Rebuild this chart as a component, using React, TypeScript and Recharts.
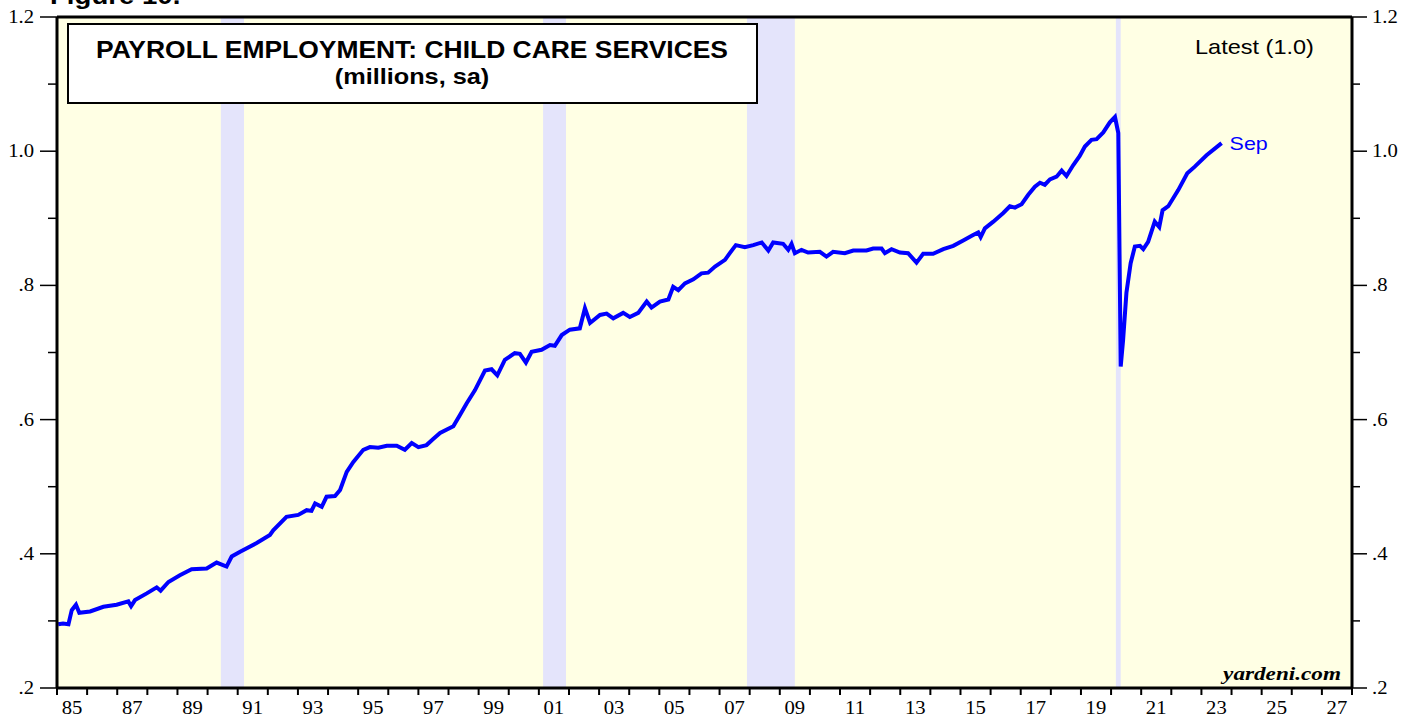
import React from "react";
import {
  ComposedChart,
  Line,
  XAxis,
  YAxis,
  ReferenceArea,
  ReferenceLine,
  LabelList,
} from "recharts";

// decimal year of each reading
const dates = [
  1985.04, 1985.2, 1985.38, 1985.49, 1985.63, 1985.74, 1986.1, 1986.54, 1986.98, 1987.37,
  1987.46, 1987.59, 1987.98, 1988.31, 1988.44, 1988.7, 1989.08, 1989.47, 1989.97, 1990.3,
  1990.63, 1990.8, 1991.08, 1991.63, 1992.07, 1992.18, 1992.62, 1993.01, 1993.29, 1993.45,
  1993.57, 1993.79, 1993.95, 1994.23, 1994.4, 1994.62, 1994.84, 1995.17, 1995.39, 1995.67,
  1995.95, 1996.28, 1996.55, 1996.78, 1997.0, 1997.27, 1997.49, 1997.72, 1998.16, 1998.38,
  1998.6, 1998.88, 1999.21, 1999.43, 1999.62, 1999.87, 2000.2, 2000.37, 2000.57, 2000.76,
  2001.09, 2001.37, 2001.53, 2001.76, 2002.03, 2002.36, 2002.53, 2002.7, 2003.03, 2003.25,
  2003.47, 2003.8, 2004.02, 2004.3, 2004.58, 2004.74, 2005.02, 2005.3, 2005.46, 2005.63,
  2005.85, 2006.13, 2006.4, 2006.62, 2006.85, 2007.18, 2007.34, 2007.54, 2007.84, 2008.12,
  2008.4, 2008.62, 2008.78, 2009.11, 2009.28, 2009.39, 2009.5, 2009.72, 2009.94, 2010.33,
  2010.55, 2010.77, 2011.16, 2011.44, 2011.88, 2012.1, 2012.38, 2012.49, 2012.71, 2012.99,
  2013.26, 2013.54, 2013.76, 2014.09, 2014.43, 2014.76, 2015.09, 2015.42, 2015.59, 2015.67,
  2015.81, 2016.09, 2016.42, 2016.64, 2016.81, 2017.03, 2017.25, 2017.47, 2017.64, 2017.8,
  2017.97, 2018.19, 2018.36, 2018.52, 2018.74, 2018.96, 2019.13, 2019.35, 2019.52, 2019.74,
  2019.96, 2020.13, 2020.24, 2020.32, 2020.4, 2020.51, 2020.65, 2020.79, 2020.96, 2021.07,
  2021.23, 2021.45, 2021.6, 2021.71, 2021.9, 2022.23, 2022.53, 2022.78, 2023.17, 2023.67,
];

// payroll employment, child care services (millions, sa)
const employment = [
  0.295, 0.296, 0.295, 0.316, 0.324, 0.312, 0.314, 0.321, 0.324, 0.329,
  0.322, 0.331, 0.341, 0.35, 0.345, 0.358, 0.368, 0.377, 0.378, 0.387,
  0.381, 0.396, 0.403, 0.416, 0.428, 0.435, 0.455, 0.458, 0.465, 0.464,
  0.475, 0.47, 0.485, 0.486, 0.495, 0.522, 0.537, 0.555, 0.559, 0.558,
  0.561, 0.561, 0.555, 0.565, 0.559, 0.562, 0.571, 0.58, 0.59, 0.607,
  0.624, 0.644, 0.673, 0.675, 0.666, 0.689, 0.699, 0.698, 0.685, 0.701,
  0.704, 0.711, 0.71, 0.726, 0.734, 0.736, 0.766, 0.744, 0.756, 0.758,
  0.751, 0.759, 0.753, 0.759, 0.776, 0.767, 0.776, 0.779, 0.798, 0.793,
  0.803, 0.809, 0.818, 0.819, 0.828, 0.838, 0.848, 0.86, 0.857, 0.86,
  0.864, 0.852, 0.864, 0.862, 0.853, 0.862, 0.848, 0.853, 0.849, 0.85,
  0.843, 0.85, 0.848, 0.852, 0.852, 0.855, 0.855, 0.848, 0.854, 0.849,
  0.848, 0.834, 0.847, 0.847, 0.854, 0.859, 0.867, 0.875, 0.879, 0.872,
  0.885, 0.895, 0.908, 0.918, 0.916, 0.921, 0.935, 0.947, 0.953, 0.95,
  0.958, 0.962, 0.971, 0.963, 0.979, 0.993, 1.007, 1.017, 1.018, 1.028,
  1.043, 1.051, 1.027, 0.679, 0.719, 0.789, 0.833, 0.858, 0.859, 0.854,
  0.865, 0.895, 0.887, 0.912, 0.918, 0.942, 0.967, 0.977, 0.994, 1.012,
];

// recession bands [start, end]
const recessions = [
  [1990.44, 1991.21],
  [2001.14, 2001.9],
  [2007.91, 2009.5],
  [2020.16, 2020.32],
];

const yearTicks = Array.from({ length: 44 }, (_, i) => 1985 + i);
const valueTicks = [0.2, 0.3, 0.4, 0.5, 0.6, 0.7, 0.8, 0.9, 1.0, 1.1, 1.2];

const data = dates.map((t, i) => ({ t, v: employment[i] }));
const lastIdx = data.length - 1;

const SERIF = "'Liberation Serif', 'Times New Roman', serif";
const SANS = "'Liberation Sans', Arial, sans-serif";

const fmt = (v: number) => {
  const s = v.toFixed(1);
  return s.startsWith("0") ? s.slice(1) : s;
};
const isMajor = (v: number) => Math.round(v * 10) % 2 === 0;

function LeftTick({ x, y, payload }: any) {
  const v = payload.value;
  const major = isMajor(v);
  return (
    <g>
      <line x1={x - (major ? 17 : 9)} x2={x} y1={y} y2={y} stroke="#000" strokeWidth={1.5} />
      {major && (
        <text
          transform={`translate(${x - 23},${y + 6}) scale(1.15,1)`}
          textAnchor="end"
          fontFamily={SERIF}
          fontSize={18}
          fill="#000"
        >
          {fmt(v)}
        </text>
      )}
    </g>
  );
}

function RightTick({ x, y, payload }: any) {
  const v = payload.value;
  const major = isMajor(v);
  return (
    <g>
      <line x1={x} x2={x + (major ? 15 : 8)} y1={y} y2={y} stroke="#000" strokeWidth={1.5} />
      {major && (
        <text
          transform={`translate(${x + 20},${y + 6}) scale(1.15,1)`}
          textAnchor="start"
          fontFamily={SERIF}
          fontSize={18}
          fill="#000"
        >
          {fmt(v)}
        </text>
      )}
    </g>
  );
}

function YearTick({ x, y, payload }: any) {
  const yr = payload.value;
  const label = yr % 2 === 1 && yr < 2028;
  return (
    <g>
      <line x1={x} x2={x} y1={y} y2={y + 7} stroke="#000" strokeWidth={2} />
      {label && (
        <text
          transform={`translate(${x + 15},${y + 26}) scale(1.15,1)`}
          textAnchor="middle"
          fontFamily={SERIF}
          fontSize={18}
          fill="#000"
        >
          {String(yr).slice(2)}
        </text>
      )}
    </g>
  );
}

function SepLabel(p: any) {
  if (p.index !== lastIdx) return null;
  return (
    <text
      transform={`translate(${p.x + 8},${p.y + 7}) scale(1.13,1)`}
      fontFamily={SANS}
      fontSize={19}
      fill="#0000ff"
    >
      Sep
    </text>
  );
}

export default function App() {
  return (
    <div style={{ position: "absolute", left: 0, top: 0, width: 1417, height: 719, background: "#fff" }}>
      <ComposedChart
        width={1417}
        height={719}
        data={data}
        margin={{ top: 17, right: 0, bottom: 0, left: 0 }}
      >
        <XAxis
          type="number"
          dataKey="t"
          domain={[1985, 2028]}
          ticks={yearTicks}
          interval={0}
          height={31}
          tickSize={0}
          tickMargin={0}
          tick={<YearTick />}
          axisLine={{ stroke: "#000", strokeWidth: 3 }}
          allowDataOverflow
        />
        <YAxis
          yAxisId="left"
          orientation="left"
          domain={[0.2, 1.2]}
          ticks={valueTicks}
          interval={0}
          width={57}
          tickSize={0}
          tickMargin={0}
          tick={<LeftTick />}
          axisLine={{ stroke: "#000", strokeWidth: 3 }}
          allowDataOverflow
        />
        <YAxis
          yAxisId="right"
          orientation="right"
          domain={[0.2, 1.2]}
          ticks={valueTicks}
          interval={0}
          width={65}
          tickSize={0}
          tickMargin={0}
          tick={<RightTick />}
          axisLine={{ stroke: "#000", strokeWidth: 3 }}
          allowDataOverflow
        />
        <ReferenceArea
          yAxisId="left"
          x1={1985}
          x2={2028}
          y1={0.2}
          y2={1.2}
          fill="#ffffe4"
          fillOpacity={1}
          stroke="none"
        />
        {recessions.map(([a, b], i) => (
          <ReferenceArea
            key={i}
            yAxisId="left"
            x1={a}
            x2={b}
            y1={0.2}
            y2={1.2}
            fill="#e4e4fb"
            fillOpacity={1}
            stroke="none"
          />
        ))}
        <ReferenceLine yAxisId="left" y={1.2} stroke="#000" strokeWidth={3} />
        <Line
          yAxisId="left"
          type="linear"
          dataKey="v"
          stroke="#0000ff"
          strokeWidth={4}
          dot={false}
          isAnimationActive={false}
        >
          <LabelList dataKey="v" content={<SepLabel />} />
        </Line>
      </ComposedChart>
      <svg
        width={1417}
        height={719}
        style={{ position: "absolute", left: 0, top: 0, pointerEvents: "none" }}
      >
        <text
          transform="translate(50,4) scale(1.15,1)"
          fontFamily={SANS}
          fontWeight="bold"
          fontSize={24}
          fill="#000"
        >
          Figure 10.
        </text>
        <rect x={68} y={24} width={689} height={79} fill="#fff" stroke="#000" strokeWidth={2} />
        <text
          transform="translate(412,58) scale(1.15,1)"
          textAnchor="middle"
          fontFamily={SANS}
          fontWeight="bold"
          fontSize={23}
          fill="#000"
        >
          PAYROLL EMPLOYMENT: CHILD CARE SERVICES
        </text>
        <text
          transform="translate(412,84) scale(1.15,1)"
          textAnchor="middle"
          fontFamily={SANS}
          fontWeight="bold"
          fontSize={22}
          fill="#000"
        >
          (millions, sa)
        </text>
        <text
          transform="translate(1195,54) scale(1.12,1)"
          fontFamily={SANS}
          fontSize={21}
          fill="#000"
        >
          Latest (1.0)
        </text>
        <text
          transform="translate(1341,680) scale(1.19,1)"
          textAnchor="end"
          fontFamily={SERIF}
          fontWeight="bold"
          fontStyle="italic"
          fontSize={19.5}
          fill="#000"
        >
          yardeni.com
        </text>
      </svg>
    </div>
  );
}
